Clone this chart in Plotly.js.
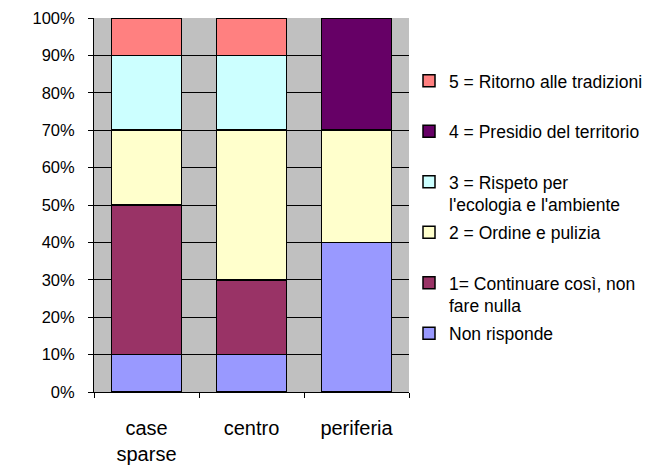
<!DOCTYPE html>
<html>
<head>
<meta charset="utf-8">
<script src="https://cdn.plot.ly/plotly-3.0.1.min.js"></script>
<style>html,body{margin:0;padding:0;background:#fff;}#chart{width:660px;height:466px;}</style>
</head>
<body>
<div id="chart"></div>
<script>
const categories = ["case<br>sparse", "centro", "periferia"];
const seriesNames = [
  "Non risponde<br> ",
  "1= Continuare così, non<br>fare nulla",
  "2 = Ordine e pulizia<br> ",
  "3 = Rispeto per<br>l'ecologia e l'ambiente",
  "4 = Presidio del territorio<br> ",
  "5 = Ritorno alle tradizioni<br> "
];
const nonRisponde = [10, 10, 40];
const continuare = [40, 20, 0];
const ordine = [20, 40, 30];
const rispetto = [20, 20, 0];
const presidio = [0, 0, 30];
const tradizioni = [10, 10, 0];
const seriesValues = [nonRisponde, continuare, ordine, rispetto, presidio, tradizioni];
const colors = ["#9999FF", "#993366", "#FFFFCC", "#CCFFFF", "#660066", "#FF8080"];
const yTickVals = [0,10,20,30,40,50,60,70,80,90,100];
const yTickText = ["0%","10%","20%","30%","40%","50%","60%","70%","80%","90%","100%"];

const font = "Liberation Sans, Arial, sans-serif";
const traces = seriesValues.map((vals, i) => ({
  type: "bar",
  x: categories,
  y: vals,
  name: seriesNames[i],
  legendgroup: "g" + i,
  legendrank: 1000 - i * 10,
  marker: {color: colors[i], line: {color: "#000", width: 1.5}},
  hoverinfo: "none"
}));

const layout = {
  width: 660, height: 466,
  margin: {l: 94, r: 248, t: 18, b: 74},
  barmode: "stack",
  bargap: 0.33,
  paper_bgcolor: "#ffffff",
  plot_bgcolor: "#C0C0C0",
  font: {family: font, size: 16, color: "#000"},
  showlegend: true,
  legend: {
    x: 1.0, xanchor: "left", y: 0.88, yanchor: "top",
    traceorder: "grouped",
    tracegroupgap: 2,
    valign: "top",
    font: {family: font, size: 17.5, color: "#000"},
    bgcolor: "rgba(0,0,0,0)"
  },
  xaxis: {
    type: "category",
    showline: true, linecolor: "#000", linewidth: 1,
    ticks: "outside", tickson: "boundaries", ticklen: 5, tickcolor: "#000",
    showgrid: false,
    tickfont: {family: font, size: 20},
    ticklabelstandoff: 18
  },
  yaxis: {
    range: [0, 100],
    tickvals: yTickVals, ticktext: yTickText,
    showline: true, linecolor: "#000", linewidth: 1,
    ticks: "outside", ticklen: 5, tickcolor: "#000",
    showgrid: true, gridcolor: "#000", gridwidth: 1,
    zeroline: false,
    tickfont: {family: font, size: 16.5},
    ticklabelstandoff: 10
  }
};

Plotly.newPlot("chart", traces, layout, {displayModeBar: false, staticPlot: true});
</script>
</body>
</html>
